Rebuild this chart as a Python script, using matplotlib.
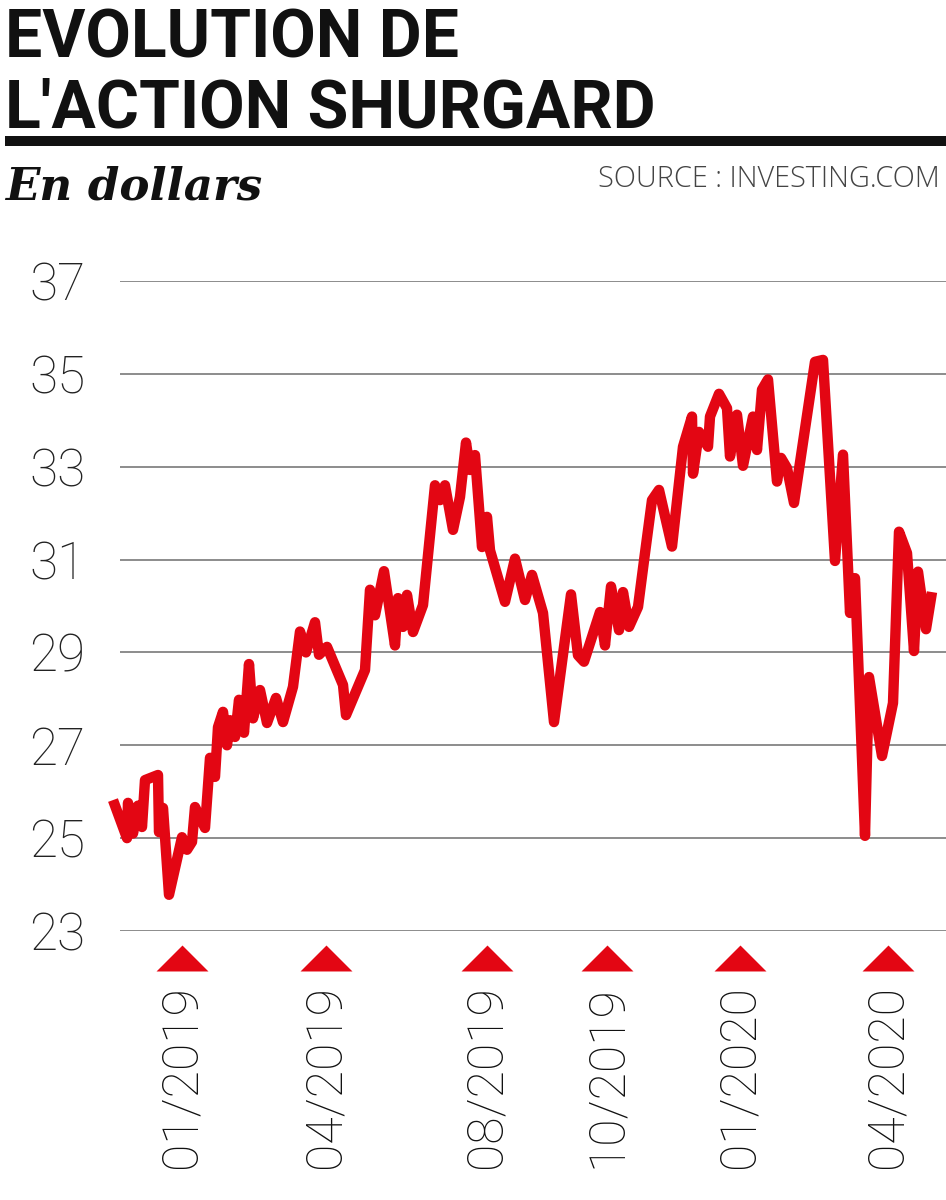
import matplotlib
matplotlib.use('Agg')
import matplotlib.pyplot as plt
import matplotlib.transforms as mtransforms
from matplotlib.patches import Rectangle

# position sur l'axe du temps (0 = debut de la serie), cours en dollars
t = [1, 15, 16, 21, 26, 30, 33, 46, 47, 51, 57, 70, 75, 80, 83, 93, 98, 103, 106, 111,
     115, 118, 123, 127, 132, 137, 141, 148, 155, 164, 171, 181, 188, 194, 203, 207, 215,
     231, 234, 253, 258, 263, 272, 283, 286, 291, 295, 301, 311, 323, 328, 333, 341, 348,
     354, 358, 363, 370, 375, 378, 393, 403, 413, 420, 431, 442, 459, 466, 472, 488, 493,
     499, 507, 511, 517, 526, 533, 540, 547, 560, 571, 580, 581, 587, 596, 598, 607, 615,
     618, 625, 631, 641, 645, 650, 656, 665, 669, 675, 682, 703, 711, 723, 731, 738, 743,
     753, 757, 770, 781, 787, 795, 802, 806, 814, 820]
cours = [25.82, 25.0, 25.76, 25.1, 25.7, 25.24, 26.25, 26.36, 25.13, 25.65, 23.78, 25.02,
         24.75, 24.92, 25.67, 25.22, 26.73, 26.32, 27.39, 27.72, 27.0, 27.54, 27.18, 27.98,
         27.27, 28.75, 27.58, 28.19, 27.48, 28.02, 27.5, 28.26, 29.45, 29.0, 29.65, 28.95,
         29.12, 28.3, 27.65, 28.62, 30.35, 29.8, 30.75, 29.15, 30.17, 29.55, 30.24, 29.44,
         30.02, 32.6, 32.28, 32.6, 31.64, 32.35, 33.52, 32.93, 33.25, 31.27, 31.92, 31.2,
         30.09, 31.02, 30.13, 30.67, 29.85, 27.5, 30.25, 28.94, 28.8, 29.87, 29.15, 30.42,
         29.48, 30.3, 29.55, 29.98, 31.14, 32.28, 32.5, 31.28, 33.43, 34.08, 32.85, 33.75,
         33.43, 34.08, 34.57, 34.26, 33.22, 34.12, 33.02, 34.08, 33.36, 34.66, 34.88, 32.68,
         33.19, 32.97, 32.22, 35.26, 35.3, 30.97, 33.26, 29.85, 30.6, 25.05, 28.47, 26.77,
         27.91, 31.6, 31.14, 29.03, 30.74, 29.5, 30.3]

mois_pos = [70, 214, 375, 495, 628, 776]
mois_lab = ['01/2019', '04/2019', '08/2019', '10/2019', '01/2020', '04/2020']
y_ticks = [23, 25, 27, 29, 31, 33, 35, 37]

rouge = '#e30613'

fig = plt.figure(figsize=(9.46, 12), dpi=100)
W, H = 946, 1200
ax = fig.add_axes([120 / W, 1 - 931 / H, 1 - 120 / W, 650 / H])

ax.plot(t, cours, color=rouge, lw=7.5, clip_on=False, solid_joinstyle='round',
        solid_capstyle='butt', zorder=3)

ax.set_xlim(8, 834)
ax.set_ylim(23, 37)
ax.set_yticks(y_ticks)
ax.grid(axis='y', color='#8c8c8c', lw=1.4)
ax.set_axisbelow(True)
for s in ax.spines.values():
    s.set_visible(False)

ax.set_xticks(mois_pos, mois_lab, rotation=90)
ax.tick_params(axis='x', length=0, pad=39)
ax.tick_params(axis='y', length=0, pad=25)
for lab in ax.get_yticklabels():
    lab.set_fontfamily('Roboto')
    lab.set_fontweight('light')
    lab.set_fontsize(37)
    lab.set_color('#222222')
for lab in ax.get_xticklabels():
    lab.set_fontfamily('Roboto')
    lab.set_fontweight('light')
    lab.set_fontsize(36)
    lab.set_color('#111111')

# triangles rouges au-dessus des dates
tri = [(-1, -0.5), (1, -0.5), (0, 0.5)]
trans = mtransforms.blended_transform_factory(ax.transData, ax.transAxes)
ax.plot(mois_pos, [-0.0423] * len(mois_pos), ls='none', marker=tri, ms=37.4,
        color=rouge, mec='none', transform=trans, clip_on=False)

# titres
fig.text(5 / W, 1 - 58 / H, 'EVOLUTION DE', family='Roboto', weight='bold',
         fontsize=47.5, va='baseline', ha='left', color='#111111')
fig.text(5 / W, 1 - 128 / H, "L'ACTION SHURGARD", family='Roboto', weight='bold',
         fontsize=47.5, va='baseline', ha='left', color='#111111')
fig.add_artist(Rectangle((5 / W, 1 - 146 / H), 1 - 5 / W, 10 / H,
                         transform=fig.transFigure, color='#111111', lw=0))
fig.text(5 / W, 1 - 200 / H, 'En dollars', family='DejaVu Serif', style='italic',
         weight='bold', fontsize=32.5, va='baseline', ha='left', color='#111111')
fig.text(940 / W, 1 - 187 / H, 'SOURCE : INVESTING.COM', family='Open Sans',
         weight='light', fontsize=20.8, va='baseline', ha='right', color='#444444')

fig.savefig('out.png', dpi=100)
